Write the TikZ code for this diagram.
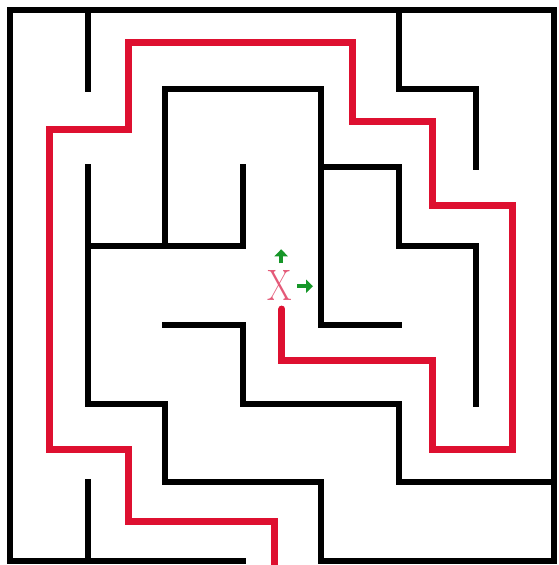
\documentclass[tikz,border=0pt]{standalone}
\usepackage{xcolor}
\usepackage{tikz}
\usetikzlibrary{arrows.meta}

\definecolor{routered}{RGB}{222,16,48}
\definecolor{markpink}{RGB}{228,90,120}
\definecolor{markgreen}{RGB}{22,150,40}

\begin{document}
\begin{tikzpicture}[x=77.7pt, y=-78.7pt,
        wall/.style={line width=6pt, line cap=rect, line join=miter},
        route/.style={draw=routered, line width=7pt, line join=miter, line cap=round},
        hint/.style={draw=markgreen, line width=4pt, -{Triangle[length=7pt, width=13pt]}}]
        \useasboundingbox (-0.1287,-0.1271) rectangle (7.0656,7.0521);

        \draw[wall] (0,7) -- (0,0) -- (7,0) -- (7,7) -- (4,7);
        \draw[wall] (0,7) -- (3,7);
        \draw[wall] (1,0) -- (1,1);
        \draw[wall] (2,3) -- (2,1) -- (4,1) -- (4,4) -- (5,4);
        \draw[wall] (1,2) -- (1,5) -- (2,5) -- (2,6) -- (4,6) -- (4,7);
        \draw[wall] (1,3) -- (3,3) -- (3,2);
        \draw[wall] (2,4) -- (3,4) -- (3,5) -- (5,5) -- (5,6) -- (7,6);
        \draw[wall] (5,0) -- (5,1) -- (6,1) -- (6,2);
        \draw[wall] (4,2) -- (5,2) -- (5,3) -- (6,3) -- (6,5);
        \draw[wall] (1,6) -- (1,7);

        \node[text=markpink, font=\fontsize{44}{44}\selectfont, xscale=0.8,
              inner sep=0pt] (goal) at (3.475,3.494) {X};
        \draw[hint] (3.49,3.22) -- (3.49,3.04);
        \draw[hint] (3.70,3.51) -- (3.90,3.51);

        \draw[route] (3.5,3.8) -- (3.5,4.45) -- (5.44,4.45) -- (5.44,5.59)
            -- (6.47,5.59) -- (6.47,2.48) -- (5.44,2.48) -- (5.44,1.42)
            -- (4.41,1.42) -- (4.41,0.41) -- (1.52,0.41) -- (1.52,1.52)
            -- (0.51,1.52) -- (0.51,5.59) -- (1.52,5.59) -- (1.52,6.5)
            -- (3.41,6.5) -- (3.41,7.2);
\end{tikzpicture}
\end{document}
